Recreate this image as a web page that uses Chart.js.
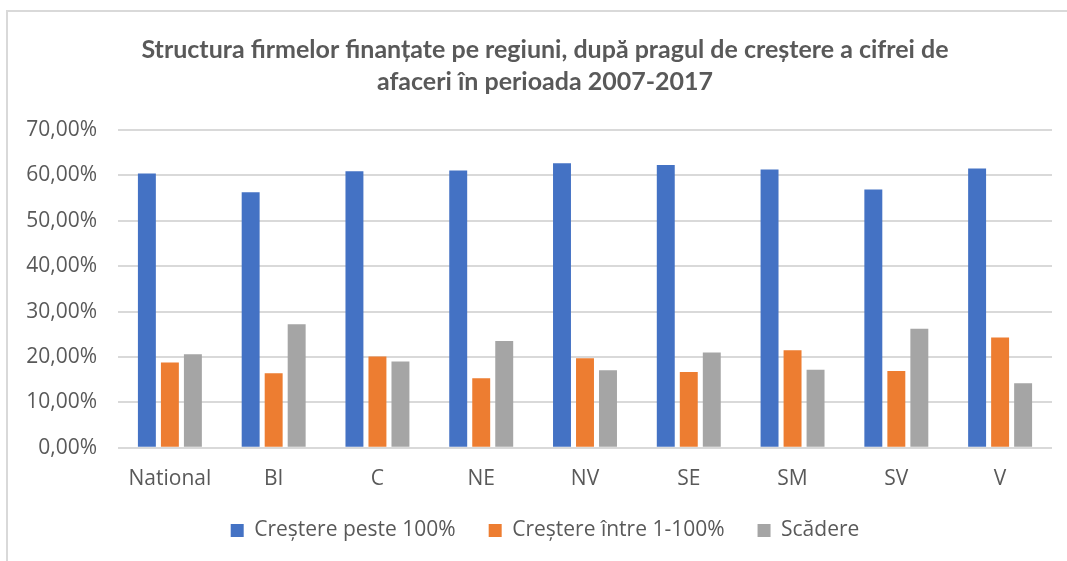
<!DOCTYPE html>
<html>
<head>
<meta charset="utf-8">
<script src="https://cdn.jsdelivr.net/npm/chart.js@4"></script>
<style>
  html, body { margin: 0; padding: 0; background: #fff; }
  #wrap { position: relative; width: 1067px; height: 561px; }
</style>
</head>
<body>
<div id="wrap"><canvas id="c" width="1067" height="561"></canvas></div>
<script>
const titleLines = ["Structura firmelor finanțate pe regiuni, după pragul de creștere a cifrei de", "afaceri în perioada 2007-2017"];
const categories = ["National", "BI", "C", "NE", "NV", "SE", "SM", "SV", "V"];
const seriesNames = ["Creștere peste 100%", "Creștere între 1-100%", "Scădere"];
const crestere100 = [60.4, 56.3, 60.9, 61.1, 62.7, 62.3, 61.3, 56.9, 61.5];
const crestere1_100 = [18.8, 16.4, 20.1, 15.3, 19.7, 16.7, 21.5, 16.9, 24.3];
const scadere = [20.6, 27.2, 19.0, 23.5, 17.1, 21.0, 17.2, 26.2, 14.2];
const yMin = 0, yMax = 70, yStep = 10;

const colors = ["#4472C4", "#ED7D31", "#A5A5A5"];
const textColor = "#595959";

const borderPlugin = {
  id: 'outerBorder',
  beforeDraw(chart) {
    const ctx = chart.ctx;
    ctx.save();
    ctx.strokeStyle = '#d9d9d9';
    ctx.lineWidth = 2;
    ctx.beginPath();
    ctx.moveTo(7, chart.height);
    ctx.lineTo(7, 11);
    ctx.lineTo(chart.width, 11);
    ctx.stroke();
    ctx.restore();
  }
};

new Chart(document.getElementById('c'), {
  type: 'bar',
  data: {
    labels: categories,
    datasets: [
      { label: seriesNames[0], data: crestere100, backgroundColor: colors[0] },
      { label: seriesNames[1], data: crestere1_100, backgroundColor: colors[1] },
      { label: seriesNames[2], data: scadere, backgroundColor: colors[2] }
    ]
  },
  options: {
    responsive: false,
    animation: false,
    devicePixelRatio: 1,
    layout: { padding: { left: 38, right: 15, top: 0, bottom: 10 } },
    datasets: { bar: { categoryPercentage: 0.665, barPercentage: 0.78 } },
    plugins: {
      title: {
        display: true,
        text: titleLines,
        color: textColor,
        font: { family: 'Lato', size: 25, weight: 'bold', lineHeight: 1.28 },
        padding: { top: 34, bottom: 32 }
      },
      legend: {
        position: 'bottom',
        labels: {
          color: textColor,
          font: { family: 'Open Sans', size: 21 },
          boxWidth: 13,
          boxHeight: 13,
          padding: 33
        }
      },
      tooltip: { enabled: false }
    },
    scales: {
      x: {
        afterFit(scale) {
          scale.height = scale.height - 24;
          scale._computeLabelArea = () => undefined;
        },
        grid: { display: false, drawTicks: false },
        border: { display: false },
        ticks: { color: textColor, font: { family: 'Open Sans', size: 21 }, padding: 19 }
      },
      y: {
        min: yMin, max: yMax,
        afterFit(scale) {
          scale.width = 80;
          scale._computeLabelArea = () => undefined;
        },
        grid: { color: '#d9d9d9', lineWidth: 2, drawTicks: false },
        border: { display: false },
        ticks: {
          stepSize: yStep,
          color: textColor,
          font: { family: 'Open Sans', size: 21 },
          padding: 21,
          callback: v => v.toFixed(2).replace('.', ',') + '%'
        }
      }
    }
  },
  plugins: [borderPlugin]
});
</script>
</body>
</html>
